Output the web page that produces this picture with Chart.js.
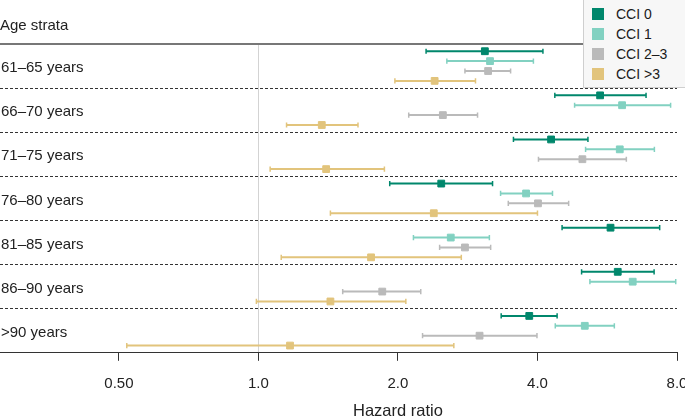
<!DOCTYPE html>
<html>
<head>
<meta charset="utf-8">
<script src="https://cdn.jsdelivr.net/npm/chart.js@4.4.1/dist/chart.umd.min.js"></script>
<style>
  html, body { margin: 0; padding: 0; background: #fff; }
  #wrap { position: relative; width: 685px; height: 418px; overflow: hidden; }
  #legend {
    position: absolute; left: 583px; top: -1px; width: 103px; height: 89px;
    box-sizing: border-box; background: #f7f7f7; border: 1px solid #cfcfcf;
    padding-top: 4px; font: 14px 'Liberation Sans', Arial, sans-serif; color: #1a1a1a;
  }
  .item { height: 20px; display: flex; align-items: center; }
  .sw { width: 12px; height: 12px; margin: 0 12px 0 8px; }
</style>
</head>
<body>
<div id="wrap">
  <canvas id="forest" width="685" height="418"></canvas>
  <div id="legend"></div>
</div>
<script>
const strata = ['61–65 years', '66–70 years', '71–75 years', '76–80 years', '81–85 years', '86–90 years', '>90 years'];
const seriesNames = ['CCI 0', 'CCI 1', 'CCI 2–3', 'CCI >3'];
const seriesColors = ['#00876c', '#82d1c1', '#bababa', '#e2c47c'];

// hazard ratios with 95% CI, one array per CCI group
const hr0 = [3.08, 5.46, 4.28, 2.48, 5.75, 5.96, 3.84];
const lo0 = [2.30, 4.36, 3.55, 1.92, 4.52, 4.98, 3.34];
const hi0 = [4.11, 6.86, 5.14, 3.20, 7.34, 7.14, 4.41];

const hr1 = [3.16, 6.09, 6.02, 3.78, 2.60, 6.42, 5.06];
const lo1 = [2.55, 4.81, 5.08, 3.33, 2.16, 5.19, 4.37];
const hi1 = [3.92, 7.75, 7.15, 4.31, 3.15, 7.95, 5.86];

const hr2 = [3.13, 2.50, 5.00, 4.01, 2.79, 1.85, 3.00];
const lo2 = [2.79, 2.11, 4.02, 3.46, 2.46, 1.52, 2.26];
const hi2 = [3.50, 2.97, 6.22, 4.67, 3.17, 2.24, 3.99];

const hr3 = [2.40, 1.37, 1.40, 2.39, 1.75, 1.43, 1.17];
const lo3 = [1.97, 1.15, 1.06, 1.43, 1.12, 0.99, 0.52];
const hi3 = [2.94, 1.64, 1.87, 4.00, 2.74, 2.08, 2.64];

const tickValues = [0.5, 1, 2, 4, 8];
const tickLabels = ['0.50', '1.0', '2.0', '4.0', '8.0'];

const FONT = "'Liberation Sans', Arial, sans-serif";
const offsets = [-0.336, -0.112, 0.112, 0.336];
const groups = [[hr0, lo0, hi0], [hr1, lo1, hi1], [hr2, lo2, hi2], [hr3, lo3, hi3]];

const datasets = [];
groups.forEach(([hr, lo, hi], k) => {
  const color = seriesColors[k];
  const bars = [];
  strata.forEach((_, i) => {
    const y = i + offsets[k];
    bars.push({x: lo[i], y: y}, {x: hi[i], y: y}, {x: null, y: null});
  });
  datasets.push({
    label: seriesNames[k] + ' CI',
    data: bars,
    showLine: true,
    spanGaps: false,
    borderColor: color,
    borderWidth: 2,
    pointStyle: 'line',
    pointRotation: 90,
    pointRadius: 2.6,
    pointBorderWidth: 1.5,
    pointBorderColor: color,
    pointBackgroundColor: color,
    order: 2
  });
  datasets.push({
    label: seriesNames[k],
    data: hr.map((v, i) => ({x: v, y: i + offsets[k]})),
    showLine: false,
    pointStyle: 'rect',
    pointRadius: 4.8,
    pointBorderWidth: 1,
    pointBackgroundColor: color,
    pointBorderColor: color,
    order: 1
  });
});

// legend box in the top right corner
const legend = document.getElementById('legend');
seriesNames.forEach((name, k) => {
  const item = document.createElement('div');
  item.className = 'item';
  item.innerHTML = '<span class="sw" style="background:' + seriesColors[k] + '"></span>' + name;
  legend.appendChild(item);
});

// x axis title, centred between the first and last tick
const axisTitle = {
  id: 'axisTitle',
  afterDraw(chart) {
    const x = chart.scales.x;
    const cx = (x.getPixelForValue(tickValues[0]) + x.getPixelForValue(tickValues[tickValues.length - 1])) / 2;
    const ctx = chart.ctx;
    ctx.save();
    ctx.font = '16.5px ' + FONT;
    ctx.fillStyle = '#222';
    ctx.textAlign = 'center';
    ctx.textBaseline = 'middle';
    ctx.fillText('Hazard ratio', cx, 411);
    ctx.restore();
  }
};

// the row labels sit inside the plot, so the y axes take no width
const noWidth = axis => { axis.width = 0; };

new Chart(document.getElementById('forest'), {
  type: 'scatter',
  data: { datasets: datasets },
  plugins: [axisTitle],
  options: {
    responsive: false,
    animation: false,
    events: [],
    layout: { autoPadding: false, padding: { left: 0, right: 0, top: 0, bottom: 12 } },
    plugins: {
      legend: { display: false },
      tooltip: { enabled: false },
      title: {
        display: true,
        text: 'Age strata',
        align: 'start',
        color: '#222',
        font: { family: FONT, size: 15, weight: 'normal' },
        padding: { top: 17, bottom: 9 }
      }
    },
    scales: {
      x: {
        type: 'logarithmic',
        position: 'bottom',
        min: 0.277,
        max: 8,
        afterBuildTicks: axis => { axis.ticks = tickValues.map(v => ({ value: v })); },
        afterFit: axis => { axis.paddingLeft = 0; axis.paddingRight = 8; },
        ticks: {
          callback: (v, i) => tickLabels[i],
          autoSkip: false,
          maxRotation: 0,
          padding: 13.6,
          color: '#222',
          font: { family: FONT, size: 15 }
        },
        grid: {
          color: c => (c.tick && c.tick.value === 1) ? '#d3d3d3' : 'rgba(0,0,0,0)',
          lineWidth: 1,
          drawTicks: true,
          tickLength: 8,
          tickColor: '#333'
        },
        border: { color: '#333', width: 1 },
        title: { display: false }
      },
      xTop: {
        type: 'linear',
        position: 'top',
        min: 0,
        max: 1,
        ticks: { display: false },
        grid: { display: false, drawTicks: false },
        border: { color: '#777', width: 2 }
      },
      y: {
        type: 'linear',
        position: 'left',
        min: -0.5,
        max: 6.5,
        reverse: true,
        afterBuildTicks: axis => { axis.ticks = strata.map((_, i) => ({ value: i })); },
        afterFit: noWidth,
        ticks: {
          mirror: true,
          padding: 1,
          labelOffset: 2,
          callback: v => strata[v],
          color: '#222',
          font: { family: FONT, size: 15 }
        },
        grid: { display: false, drawTicks: false },
        border: { display: false }
      },
      ySep: {
        type: 'linear',
        position: 'left',
        min: -0.5,
        max: 6.5,
        reverse: true,
        afterBuildTicks: axis => { axis.ticks = strata.slice(1).map((_, i) => ({ value: i + 0.5 })); },
        afterFit: noWidth,
        ticks: { display: false },
        grid: { color: '#333', lineWidth: 1, drawTicks: false, borderDash: [3, 2] },
        border: { display: false, dash: [3, 2] }
      }
    }
  }
});
</script>
</body>
</html>
